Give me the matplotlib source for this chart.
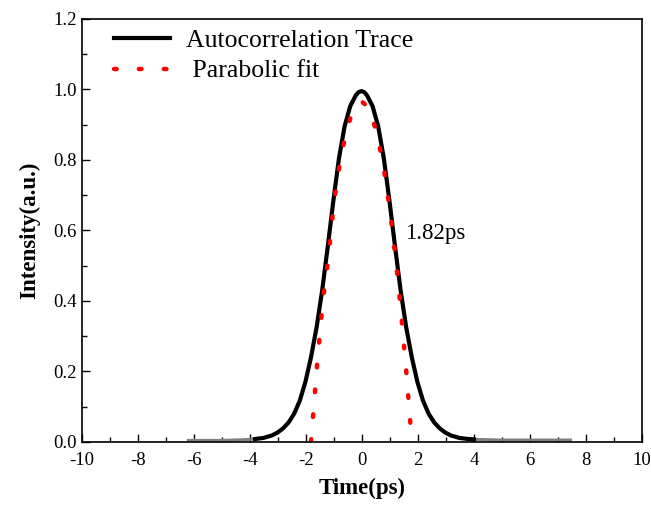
import matplotlib
matplotlib.use("Agg")
import matplotlib.pyplot as plt
from matplotlib.ticker import MultipleLocator

plt.rcParams["font.family"] = ["Liberation Serif", "DejaVu Serif"]
plt.rcParams["axes.unicode_minus"] = False

# autocorrelation trace
trace_x = [-3.82, -3.52, -3.22, -3.02, -2.82, -2.62, -2.42, -2.22, -2.02, -1.82,
           -1.62, -1.42, -1.22, -1.02, -0.82, -0.62, -0.42, -0.22, -0.12, -0.02,
           0.08, 0.18, 0.38, 0.58, 0.78, 0.98, 1.18, 1.38, 1.58, 1.78, 1.98,
           2.18, 2.38, 2.58, 2.78, 2.98, 3.18, 3.48, 3.78, 4.0]
trace_y = [0.008, 0.011, 0.018, 0.026, 0.038, 0.055, 0.08, 0.117, 0.17, 0.24,
           0.325, 0.43, 0.555, 0.685, 0.805, 0.895, 0.952, 0.983, 0.992, 0.995,
           0.992, 0.983, 0.952, 0.895, 0.805, 0.685, 0.555, 0.43, 0.325, 0.24, 0.17,
           0.117, 0.08, 0.055, 0.038, 0.026, 0.018, 0.011, 0.008, 0.007]

# faint baseline tails of the trace
tail_left_x = [-6.2, -5.0, -4.2, -3.82]
tail_left_y = [0.004, 0.004, 0.006, 0.008]
tail_right_x = [4.0, 5.0, 6.0, 7.45]
tail_right_y = [0.007, 0.005, 0.005, 0.005]

# parabolic fit
fit_x = [-1.82, -1.6, -1.4, -1.2, -1.0, -0.8, -0.6, -0.4, -0.2, 0.0,
         0.2, 0.4, 0.6, 0.8, 1.0, 1.2, 1.4, 1.6, 1.78]
fit_y = [0.0, 0.221, 0.398, 0.522, 0.679, 0.784, 0.865, 0.922, 0.955, 0.965,
         0.951, 0.912, 0.850, 0.765, 0.655, 0.522, 0.364, 0.183, 0.0]

fig = plt.figure(figsize=(6.51, 5.09), dpi=100)
ax = fig.add_axes([0.126, 0.132, 0.86, 0.831])

ax.plot(tail_left_x, tail_left_y, color="#808080", lw=2.2)
ax.plot(tail_right_x, tail_right_y, color="#808080", lw=2.2)
ax.plot(trace_x, trace_y, color="black", lw=3, label="Autocorrelation Trace")
ax.plot(fit_x, fit_y, color="red", lw=3.2, linestyle=(0, (0.6, 5.0)),
        dash_capstyle="round", label=" Parabolic fit")

ax.text(1.55, 0.59, "1.82ps", fontsize=16.5, va="center", ha="left")

ax.set_xlim(-10, 10)
ax.set_ylim(0, 1.2)
ax.xaxis.set_major_locator(MultipleLocator(2))
ax.xaxis.set_minor_locator(MultipleLocator(1))
ax.yaxis.set_major_locator(MultipleLocator(0.2))
ax.yaxis.set_minor_locator(MultipleLocator(0.1))
ax.tick_params(which="both", direction="in", width=1, labelsize=13.5)
ax.tick_params(which="major", length=6)
ax.tick_params(which="minor", length=3.5)
ax.tick_params(axis="x", pad=7)
ax.tick_params(axis="y", pad=4)
for s in ax.spines.values():
    s.set_linewidth(1.2)

ax.set_xlabel("Time(ps)", fontsize=16.5, fontweight="bold", labelpad=7)
ax.set_ylabel("Intensity(a.u.)", fontsize=16.5, fontweight="bold", labelpad=9)

ax.legend(loc="upper left", frameon=False, fontsize=18.5, handlelength=2.2,
          handletextpad=0.6, borderaxespad=0.4, labelspacing=0.3,
          bbox_to_anchor=(0.02, 1.025))

fig.savefig("out.png", dpi=100)
